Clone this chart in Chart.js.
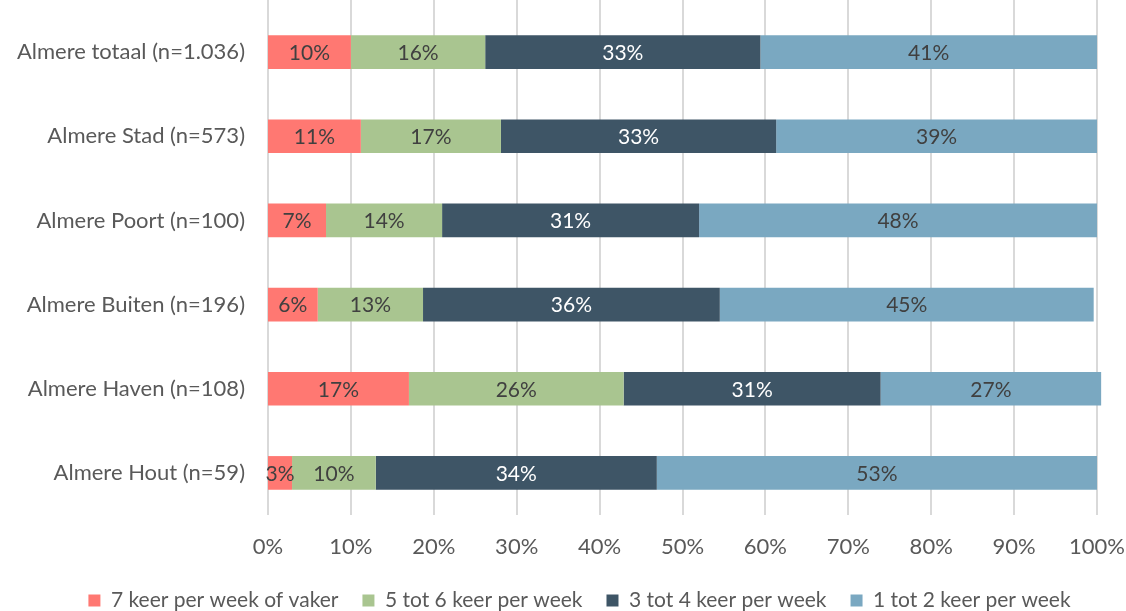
<!DOCTYPE html>
<html lang="nl">
<head>
    <meta charset="UTF-8">
    <title>Almere - frequentie per week</title>
    <script src="https://cdn.jsdelivr.net/npm/chart.js@4.4.1/dist/chart.umd.min.js"></script>
    <style>
        html, body {
            margin: 0;
            padding: 0;
            background: #fff;
            overflow: hidden;
        }
        .chart-container {
            position: relative;
            width: 1126px;
            height: 621px;
        }
    </style>
</head>
<body>
    <div class="chart-container">
        <canvas id="chart"></canvas>
    </div>

    <script>
        // categories (top to bottom)
        const categories = [
            'Almere totaal (n=1.036)',
            'Almere Stad (n=573)',
            'Almere Poort (n=100)',
            'Almere Buiten (n=196)',
            'Almere Haven (n=108)',
            'Almere Hout (n=59)'
        ];

        // series, percentages
        const zevenKeer = [10.0, 11.2, 7.0, 6.0, 17.0, 2.9];
        const vijfTotZes = [16.2, 16.9, 14.0, 12.7, 25.9, 10.1];
        const drieTotVier = [33.2, 33.2, 31.0, 35.8, 31.0, 33.9];
        const eenTotTwee = [40.6, 38.7, 48.0, 45.1, 26.6, 53.1];

        const seriesNames = [
            '7 keer per week of vaker',
            '5 tot 6 keer per week',
            '3 tot 4 keer per week',
            '1 tot 2 keer per week'
        ];

        const xTicks = [0, 10, 20, 30, 40, 50, 60, 70, 80, 90, 100];

        const colors = ['#FF7872', '#A9C590', '#3E5566', '#7AA8C1'];
        const labelColors = ['#404040', '#404040', '#ffffff', '#404040'];
        const fontFamily = "Lato, 'Open Sans', sans-serif";

        // gridlines run up to the top edge of the picture
        const gridPlugin = {
            id: 'grid',
            beforeDatasetsDraw(chart) {
                const ctx = chart.ctx;
                const x = chart.scales.x;
                ctx.save();
                ctx.strokeStyle = '#d9d9d9';
                ctx.lineWidth = 2;
                xTicks.forEach(t => {
                    const px = Math.round(x.getPixelForValue(t));
                    ctx.beginPath();
                    ctx.moveTo(px, 0);
                    ctx.lineTo(px, chart.chartArea.bottom);
                    ctx.stroke();
                });
                ctx.restore();
            }
        };

        // percentage labels in the middle of each segment
        const valueLabels = {
            id: 'valueLabels',
            afterDatasetsDraw(chart) {
                const ctx = chart.ctx;
                ctx.save();
                ctx.font = '21px ' + fontFamily;
                ctx.textAlign = 'center';
                ctx.textBaseline = 'middle';
                chart.data.datasets.forEach((ds, i) => {
                    const meta = chart.getDatasetMeta(i);
                    ctx.fillStyle = labelColors[i];
                    meta.data.forEach((bar, j) => {
                        const p = bar.getCenterPoint();
                        ctx.fillText(Math.round(ds.data[j]) + '%', p.x, p.y + 1);
                    });
                });
                ctx.restore();
            }
        };

        // legend sits a bit right of the page centre in the original
        const legendShift = {
            id: 'legendShift',
            afterLayout(chart) {
                chart.legend.left += 62;
            }
        };

        const seriesData = [zevenKeer, vijfTotZes, drieTotVier, eenTotTwee];

        new Chart(document.getElementById('chart'), {
            type: 'bar',
            data: {
                labels: categories,
                datasets: seriesData.map((d, i) => ({
                    label: seriesNames[i],
                    data: d,
                    backgroundColor: colors[i],
                    borderWidth: 0,
                    clip: false,
                    barPercentage: 0.8,
                    categoryPercentage: 0.5
                }))
            },
            options: {
                indexAxis: 'y',
                responsive: true,
                maintainAspectRatio: false,
                animation: false,
                layout: {
                    padding: { top: 10, left: 0, right: 29, bottom: 0 }
                },
                plugins: {
                    tooltip: { enabled: false },
                    legend: {
                        position: 'bottom',
                        labels: {
                            boxWidth: 12,
                            boxHeight: 12,
                            padding: 24,
                            color: '#595959',
                            font: { size: 21, family: fontFamily }
                        }
                    }
                },
                scales: {
                    x: {
                        stacked: true,
                        min: 0,
                        max: 100,
                        afterBuildTicks(scale) {
                            scale.ticks = xTicks.map(v => ({ value: v }));
                        },
                        afterFit(scale) {
                            scale.height = 51;
                            scale.paddingLeft = 0;
                            scale.paddingRight = 0;
                        },
                        grid: { display: false, drawTicks: false },
                        border: { display: false },
                        ticks: {
                            padding: 19,
                            color: '#595959',
                            font: { size: 22, family: fontFamily },
                            callback: v => v + '%'
                        }
                    },
                    y: {
                        stacked: true,
                        afterFit(scale) {
                            scale.width = 268;
                            scale.paddingTop = 0;
                            scale.paddingBottom = 0;
                        },
                        grid: { display: false, drawTicks: false },
                        border: { display: false },
                        ticks: {
                            padding: 23,
                            color: '#595959',
                            font: { size: 22, family: fontFamily }
                        }
                    }
                }
            },
            plugins: [gridPlugin, valueLabels, legendShift]
        });
    </script>
</body>
</html>
